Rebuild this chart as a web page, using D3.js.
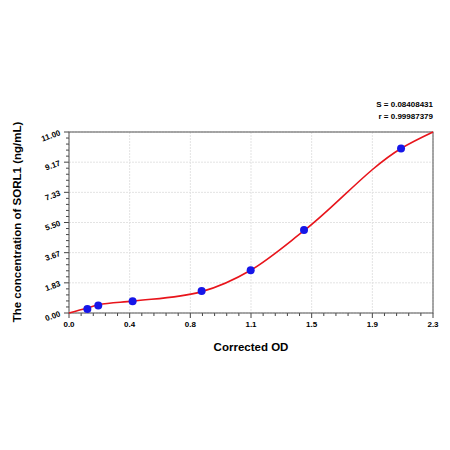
<!DOCTYPE html>
<html><head><meta charset="utf-8">
<script src="https://cdn.jsdelivr.net/npm/d3@7"></script>
<style>body{margin:0;background:#fff}text{font-family:"Liberation Sans",Arial,sans-serif}</style>
</head><body>
<script>
var od = [0.116, 0.185, 0.402, 0.838, 1.148, 1.485, 2.098];
var conc = [0.24, 0.45, 0.71, 1.34, 2.6, 5.05, 10.0];
var curveOd = [0, 0.116, 0.185, 0.402, 0.838, 1.148, 1.485, 2.098, 2.3];
var curveConc = [0, 0.3, 0.5, 0.72, 1.3, 2.6, 5.0, 10.0, 11.0];
var xTicks = ["0.0", "0.4", "0.8", "1.1", "1.5", "1.9", "2.3"];
var yTicks = ["0.00", "1.83", "3.67", "5.50", "7.33", "9.17", "11.00"];

var width = 450, height = 450;
var svg = d3.select("body").append("svg").attr("width", width).attr("height", height);
var x = d3.scaleLinear().domain([0, 2.3]).range([69, 433]);
var y = d3.scaleLinear().domain([0, 11]).range([313, 132]);
var xv = xTicks.map(function (d, i) { return 2.3 * i / 6; });
var yv = yTicks.map(function (d, i) { return 11 * i / 6; });

var g = svg.append("g");
g.selectAll(".gx").data(xv).enter().append("line")
  .attr("x1", function (d) { return x(d); }).attr("x2", function (d) { return x(d); })
  .attr("y1", 132).attr("y2", 313).attr("stroke", "#e3e3e3").attr("stroke-dasharray", "2,1");
g.selectAll(".gy").data(yv).enter().append("line")
  .attr("y1", function (d) { return y(d); }).attr("y2", function (d) { return y(d); })
  .attr("x1", 69).attr("x2", 433).attr("stroke", "#e3e3e3").attr("stroke-dasharray", "2,1");

// minor ticks
var xm = d3.range(0, 31).map(function (i) { return 2.3 * i / 30; });
var ym = d3.range(0, 31).map(function (i) { return 11 * i / 30; });
g.selectAll(".mx").data(xm).enter().append("line")
  .attr("x1", function (d) { return x(d); }).attr("x2", function (d) { return x(d); })
  .attr("y1", 313).attr("y2", function (d, i) { return i % 5 ? 316 : 318; }).attr("stroke", "#444");
g.selectAll(".my").data(ym).enter().append("line")
  .attr("y1", function (d) { return y(d); }).attr("y2", function (d) { return y(d); })
  .attr("x1", 69).attr("x2", function (d, i) { return i % 5 ? 66 : 64; }).attr("stroke", "#444");

svg.append("rect").attr("x", 69).attr("y", 132).attr("width", 364).attr("height", 181)
  .attr("fill", "none").attr("stroke", "#555");

svg.selectAll(".xl").data(xTicks).enter().append("text")
  .attr("x", function (d, i) { return x(xv[i]); }).attr("y", 327)
  .attr("text-anchor", "middle").attr("font-size", 8).attr("font-weight", "bold").text(function (d) { return d; });
svg.selectAll(".yl").data(yTicks).enter().append("text")
  .attr("transform", function (d, i) { return "translate(61," + (y(yv[i]) + 3) + ") rotate(-20)"; })
  .attr("text-anchor", "end").attr("font-size", 8).attr("font-weight", "bold").text(function (d) { return d; });

svg.append("text").attr("x", 251).attr("y", 351).attr("text-anchor", "middle")
  .attr("font-size", 11.5).attr("font-weight", "bold").text("Corrected OD");
svg.append("text").attr("transform", "translate(21,222) rotate(-90)").attr("text-anchor", "middle")
  .attr("font-size", 11.5).attr("font-weight", "bold").text("The concentration of SORL1 (ng/mL)");
svg.append("text").attr("x", 433).attr("y", 107).attr("text-anchor", "end")
  .attr("font-size", 8).attr("font-weight", "bold").text("S = 0.08408431");
svg.append("text").attr("x", 433).attr("y", 119).attr("text-anchor", "end")
  .attr("font-size", 8).attr("font-weight", "bold").text("r = 0.99987379");

var line = d3.line().curve(d3.curveMonotoneX)
  .x(function (d, i) { return x(curveOd[i]); }).y(function (d) { return y(d); });
svg.append("path").attr("d", line(curveConc)).attr("fill", "none").attr("stroke", "#e8141b").attr("stroke-width", 1.6);

svg.selectAll("circle").data(conc).enter().append("circle")
  .attr("cx", function (d, i) { return x(od[i]); }).attr("cy", function (d) { return y(d); })
  .attr("r", 4).attr("fill", "#1616e8");
</script>
</body></html>
